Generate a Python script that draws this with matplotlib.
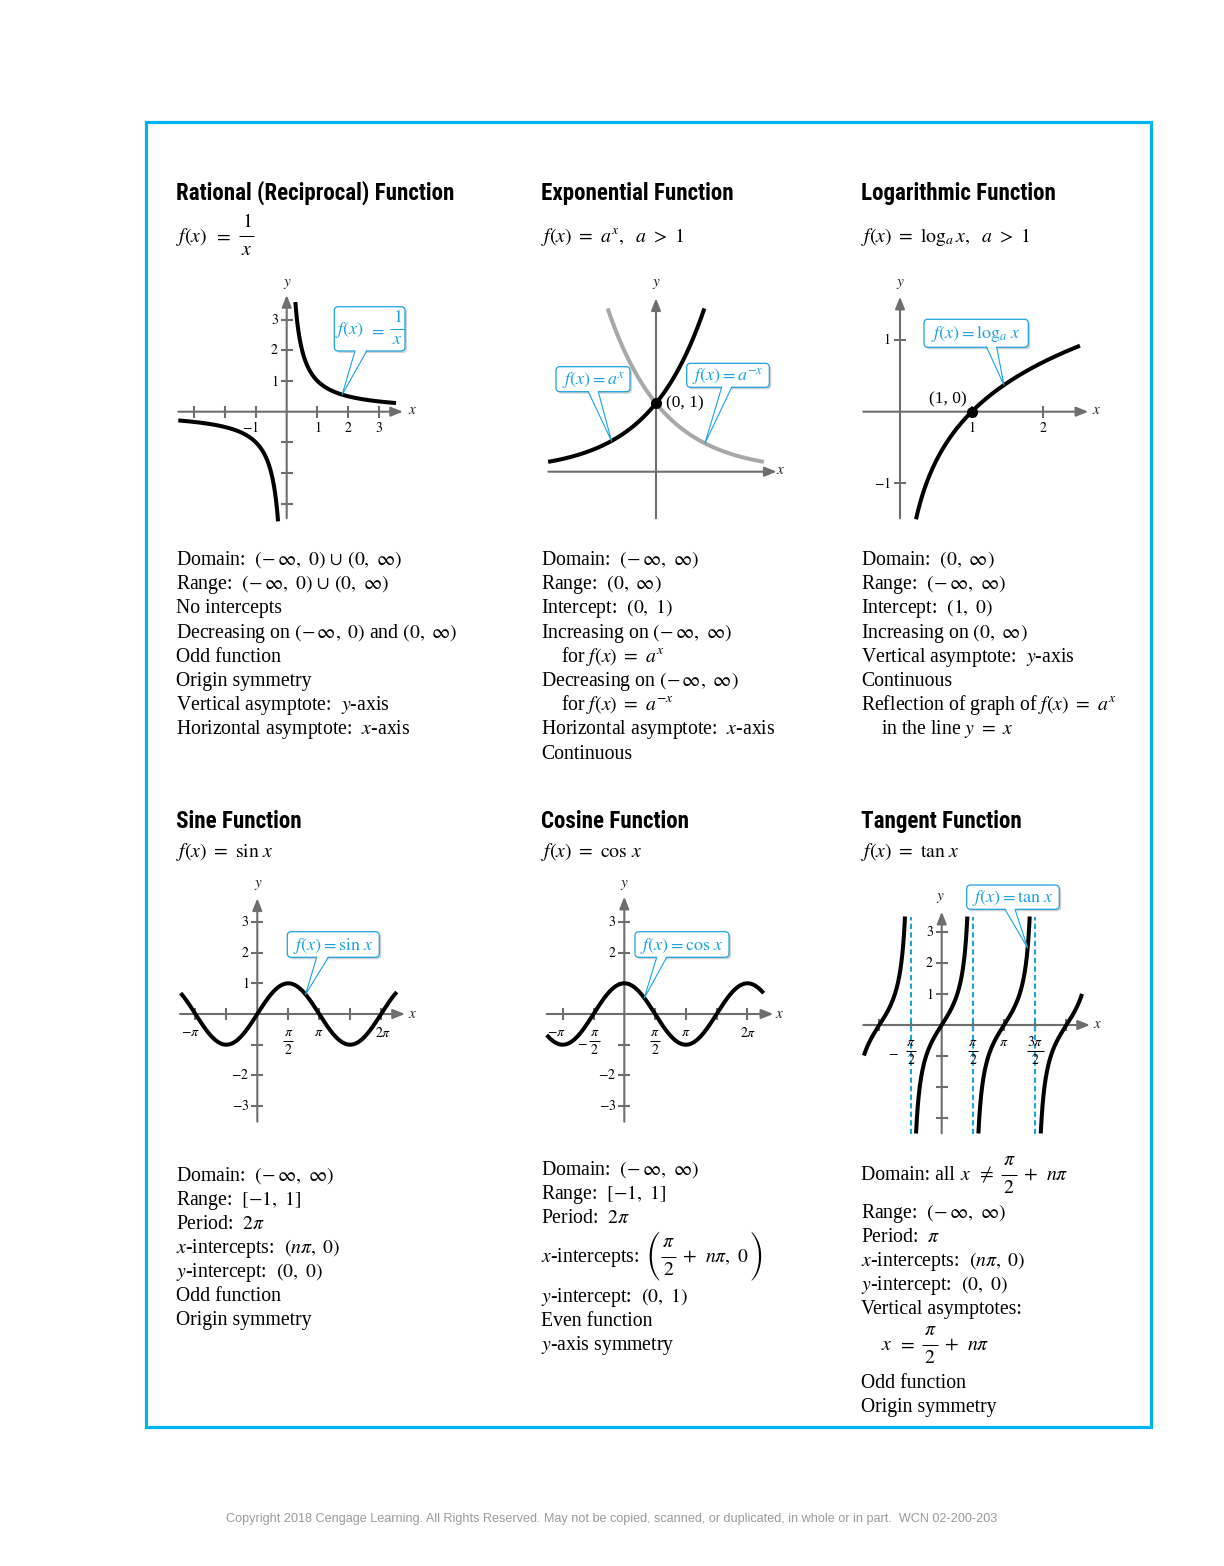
import numpy as np
import matplotlib
matplotlib.use('Agg')
import matplotlib.pyplot as plt
from matplotlib.patches import FancyBboxPatch, Polygon, Rectangle
from matplotlib import font_manager as fm

# ------------------------------------------------------------------ data
PI = np.pi
rational_xticks = [-3, -2, -1, 1, 2, 3]
rational_yticks = [-3, -2, -1, 1, 2, 3]
rational_xlabels = [(-1, r'$-1$'), (1, r'$1$'), (2, r'$2$'), (3, r'$3$')]
rational_ylabels = [(1, r'$1$'), (2, r'$2$'), (3, r'$3$')]
rational_pos_x = (0.28, 3.55)
rational_neg_x = (-3.52, -0.28)

exp_base = np.e
exp_x = (-1.94, 0.87)
exp_point = (0, 1)

log_x = (0.223, 2.51)
log_xticks = [1, 2]
log_yticks = [-1, 1]
log_xlabels = [(1, r'$1$'), (2, r'$2$')]
log_ylabels = [(1, r'$1$'), (-1, r'$-1$')]
log_point = (1, 0)

FR = 'frac'
trig_xticks = [-PI, -PI / 2, PI / 2, PI, 3 * PI / 2, 2 * PI]
trig_yticks = [-3, -2, -1, 1, 2, 3]
sine_x = (-3.89, 7.08)
sine_xlabels = [(-PI, [r'$-\pi$']), (PI / 2, [(FR, r'$\pi$', r'$2$')]), (PI, [r'$\pi$']), (2 * PI, [r'$2\pi$'])]
sine_ylabels = [(3, r'$3$'), (2, r'$2$'), (1, r'$1$'), (-2, r'$-2$'), (-3, r'$-3$')]
cos_x = (-3.96, 7.11)
cos_xlabels = [(-PI, [r'$-\pi$']), (-PI / 2, [r'$-$', 1, (FR, r'$\pi$', r'$2$')]),
               (PI / 2, [(FR, r'$\pi$', r'$2$')]), (PI, [r'$\pi$']), (2 * PI, [r'$2\pi$'])]
cos_ylabels = [(3, r'$3$'), (2, r'$2$'), (-2, r'$-2$'), (-3, r'$-3$')]
tan_x = (-3.92, 7.07)
tan_clip = 3.5
tan_branches = [-PI, 0, PI, 2 * PI]
tan_asymptotes = [-PI / 2, PI / 2, 3 * PI / 2]
tan_xlabels = [(-PI / 2, [r'$-$', 6, (FR, r'$\pi$', r'$2$')]), (PI / 2, [(FR, r'$\pi$', r'$2$')]),
               (PI, [r'$\pi$']), (3 * PI / 2, [(FR, r'$3\pi$', r'$2$')])]
tan_ylabels = [(3, r'$3$'), (2, r'$2$'), (1, r'$1$')]

titles = ['Rational (Reciprocal) Function', 'Exponential Function', 'Logarithmic Function',
          'Sine Function', 'Cosine Function', 'Tangent Function']
formulas = [[r'$f(x)$', 7, r'$=$', 7, (FR, r'$1$', r'$x$')],
            [r'$f(x)\ =\ a^x,\ \ a\ >\ 1$'],
            [r'$f(x)\ =\ \log_a x,\ \ a\ >\ 1$'],
            [r'$f(x)\ =\ \sin\,x$'], [r'$f(x)\ =\ \cos\,x$'], [r'$f(x)\ =\ \tan\,x$']]

INF2 = r'(-\,\infty,\ \infty)'
rational_facts = [r'Domain:  $(-\,\infty,\ 0)\,\cup\,(0,\ \infty)$',
                  r'Range:  $(-\,\infty,\ 0)\,\cup\,(0,\ \infty)$',
                  'No intercepts',
                  r'Decreasing on $(-\,\infty,\ 0)$ and $(0,\ \infty)$',
                  'Odd function',
                  'Origin symmetry',
                  r'Vertical asymptote:  $y$-axis',
                  r'Horizontal asymptote:  $x$-axis']
exp_facts = [r'Domain:  $' + INF2 + '$',
             r'Range:  $(0,\ \infty)$',
             r'Intercept:  $(0,\ 1)$',
             r'Increasing on $' + INF2 + '$',
             r'for $f(x)\ =\ a^x$',
             r'Decreasing on $' + INF2 + '$',
             r'for $f(x)\ =\ a^{-x}$',
             r'Horizontal asymptote:  $x$-axis',
             'Continuous']
exp_indent = [0, 0, 0, 0, 1, 0, 1, 0, 0]
log_facts = [r'Domain:  $(0,\ \infty)$',
             r'Range:  $' + INF2 + '$',
             r'Intercept:  $(1,\ 0)$',
             r'Increasing on $(0,\ \infty)$',
             r'Vertical asymptote:  $y$-axis',
             'Continuous',
             r'Reflection of graph of $f(x)\ =\ a^x$',
             r'in the line $y\ =\ x$']
log_indent = [0, 0, 0, 0, 0, 0, 0, 1]
sine_facts = [r'Domain:  $' + INF2 + '$',
              r'Range:  $[-1,\ 1]$',
              r'Period:  $2\pi$',
              r'$x$-intercepts:  $(n\pi,\ 0)$',
              r'$y$-intercept:  $(0,\ 0)$',
              'Odd function',
              'Origin symmetry']
cos_facts = [r'Domain:  $' + INF2 + '$',
             r'Range:  $[-1,\ 1]$',
             r'Period:  $2\pi$',
             [r'$x$-intercepts:', 6, ('big', '('), (FR, r'$\pi$', r'$2$'), 5, r'$+\ \ n\pi,\ 0$', 1, ('big', ')')],
             r'$y$-intercept:  $(0,\ 1)$',
             'Even function',
             r'$y$-axis symmetry']
tan_facts = [['Domain: all', 5, r'$x$', 6, r'$\neq$', 6, (FR, r'$\pi$', r'$2$'), 6, r'$+\ \ n\pi$'],
             r'Range:  $' + INF2 + '$',
             r'Period:  $\pi$',
             r'$x$-intercepts:  $(n\pi,\ 0)$',
             r'$y$-intercept:  $(0,\ 0)$',
             'Vertical asymptotes:',
             [r'$x$', 6, r'$=$', 6, (FR, r'$\pi$', r'$2$'), 6, r'$+\ \ n\pi$'],
             'Odd function',
             'Origin symmetry']
tan_indent = [0, 0, 0, 0, 0, 0, 1, 0, 0]
footer = ('Copyright 2018 Cengage Learning. All Rights Reserved. May not be copied, scanned, '
          'or duplicated, in whole or in part.  WCN 02-200-203')

# ------------------------------------------------------------------ style
W, H, DPI = 1224, 1566, 100
plt.rcParams['mathtext.fontset'] = 'stix'
plt.rcParams['font.family'] = ['Liberation Serif', 'DejaVu Serif']
GRAY = '#6e6e6e'
LGRAY = '#a8a8a8'
BLUE = '#1ba3e0'
BORDER = '#00b4f0'
CURVE_LW = 2.9
BODY_FS = 14.2
TICK_FS = 10
CALL_FS = 13

fig = plt.figure(figsize=(W / DPI, H / DPI), dpi=DPI)
R = fig.canvas.get_renderer()

pg = fig.add_axes([0, 0, 1, 1])
pg.set_xlim(0, W)
pg.set_ylim(H, 0)
pg.set_axis_off()
pg.set_zorder(10)


def measure(t):
    return t.get_window_extent(renderer=R).width


def rich(x, y, parts, fs, color='black', ha='left', bar_y=None, bar_dy=5.5, gap=(4.0, 4.0),
         fpad=2.0, zorder=3):
    """Lay out a line of text pieces; fractions are stacked numerator / bar / denominator."""
    if bar_y is None:
        bar_y = y - bar_dy
    else:
        y = bar_y + bar_dy
    items, total = [], 0.0
    for p in parts:
        if isinstance(p, (int, float)):
            items.append(('gap', p))
            total += p
        elif isinstance(p, str):
            t = pg.text(0, y, p, fontsize=fs, va='baseline', ha='left', color=color, zorder=zorder)
            w = measure(t)
            items.append(('t', t, w))
            total += w
        elif p[0] == 'big':
            t = pg.text(0, bar_y, p[1], fontsize=fs, va='center', ha='left', color=color,
                        family=['STIXSizeThreeSym', 'DejaVu Serif'], zorder=zorder)
            w = measure(t)
            items.append(('t', t, w))
            total += w
        else:
            tn = pg.text(0, 0, p[1], fontsize=fs, ha='center', va='bottom', color=color, zorder=zorder)
            td = pg.text(0, 0, p[2], fontsize=fs, ha='center', va='top', color=color, zorder=zorder)
            w = max(measure(tn), measure(td)) + 2 * fpad
            items.append(('f', tn, td, w))
            total += w
    cur = x - total / 2 if ha == 'center' else x
    for it in items:
        if it[0] == 'gap':
            cur += it[1]
        elif it[0] == 't':
            it[1].set_x(cur)
            cur += it[2]
        else:
            _, tn, td, w = it
            cx = cur + w / 2
            tn.set_position((cx, bar_y - gap[0]))
            td.set_position((cx, bar_y + gap[1]))
            pg.plot([cur + 0.5, cur + w - 0.5], [bar_y, bar_y], color=color, lw=0.75, zorder=zorder,
                    solid_capstyle='butt')
            cur += w
    return total


def graph(ox, oy, ux, uy, box):
    l, t, r, b = box
    ax = fig.add_axes([l / W, 1 - b / H, (r - l) / W, (b - t) / H])
    ax.set_xlim((l - ox) / ux, (r - ox) / ux)
    ax.set_ylim((oy - b) / uy, (oy - t) / uy)
    ax.set_axis_off()
    ax._px = (ox, oy, ux, uy)
    return ax


def px2d(ax, px, py):
    ox, oy, ux, uy = ax._px
    return (px - ox) / ux, (oy - py) / uy


def d2px(ax, x, y):
    dx, dy = ax.transData.transform((x, y))
    return dx, H - dy


def draw_axes(ax, xa, ya, xticks, yticks, xl, yl):
    ox, oy, ux, uy = ax._px
    x0, x1 = (xa[0] - ox) / ux, (xa[1] - ox) / ux
    y0, y1 = (oy - ya[0]) / uy, (oy - ya[1]) / uy
    ap = dict(arrowstyle='-|>,head_length=0.55,head_width=0.22', color=GRAY, lw=1.5,
              shrinkA=0, shrinkB=0, mutation_scale=13)
    ax.annotate('', xy=(x1, 0), xytext=(x0, 0), arrowprops=ap, annotation_clip=False, zorder=1)
    ax.annotate('', xy=(0, y1), xytext=(0, y0), arrowprops=ap, annotation_clip=False, zorder=1)
    if len(xticks):
        ax.plot(xticks, [0] * len(xticks), ls='none', marker='|', ms=9, mew=1.5, color=GRAY,
                clip_on=False, zorder=1)
    if len(yticks):
        ax.plot([0] * len(yticks), yticks, ls='none', marker='_', ms=9, mew=1.5, color=GRAY,
                clip_on=False, zorder=1)
    ax.text(*px2d(ax, *xl), r'$x$', fontsize=11, ha='center', va='center', color='#222222')
    ax.text(*px2d(ax, *yl), r'$y$', fontsize=11, ha='center', va='center', color='#222222')


def xlabels_simple(ax, items, dy=16, dx=None):
    dx = dx or {}
    for v, s in items:
        ax.annotate(s, xy=(v, 0), xytext=(dx.get(v, 0), -dy), textcoords='offset pixels',
                    ha='center', va='center', fontsize=TICK_FS, annotation_clip=False)


def xlabels_rich(ax, items, dy_single=19, dy_frac=27, dx=None):
    dx = dx or {}
    for v, parts in items:
        px, py = d2px(ax, v, 0)
        has_frac = any(isinstance(p, tuple) for p in parts)
        if has_frac:
            rich(px + dx.get(v, 0), None, parts, TICK_FS, ha='center', bar_y=py + dy_frac,
                 gap=(2.5, 2.5), fpad=1.0)
        else:
            pg.text(px + dx.get(v, 0), py + dy_single, parts[0], fontsize=TICK_FS, ha='center',
                    va='center')


def ylabels(ax, items, dx=-8):
    for v, s in items:
        ax.annotate(s, xy=(0, v), xytext=(dx, 0), textcoords='offset pixels',
                    ha='right', va='center', fontsize=TICK_FS, annotation_clip=False)


# ---------------- Graph 1: rational
g1 = graph(286.7, 411.7, 30.8, 30.7, (170, 270, 430, 530))
draw_axes(g1, (178.3, 403), (518.3, 295), rational_xticks, rational_yticks, (413, 411), (287, 284))
xp = np.linspace(*rational_pos_x, 300)
xn = np.linspace(*rational_neg_x, 300)
g1.plot(xp, 1 / xp, color='black', lw=CURVE_LW, clip_on=False, zorder=3, solid_capstyle='butt')
g1.plot(xn, 1 / xn, color='black', lw=CURVE_LW, clip_on=False, zorder=3, solid_capstyle='butt')
xlabels_simple(g1, rational_xlabels, dy=16, dx={-1: -5})
ylabels(g1, rational_ylabels)

# ---------------- Graph 2: exponential
g2 = graph(656, 471.7, 55.6, 68.4, (535, 275, 800, 525))
draw_axes(g2, (548.3, 776.7), (518.3, 298.3), [], [], (781, 471), (656, 284))
xe = np.linspace(*exp_x, 300)
xg = np.linspace(-exp_x[1], -exp_x[0], 300)
g2.plot(xg, exp_base ** (-xg), color=LGRAY, lw=CURVE_LW, clip_on=False, zorder=2, solid_capstyle='butt')
g2.plot(xe, exp_base ** xe, color='black', lw=CURVE_LW, clip_on=False, zorder=3, solid_capstyle='butt')
g2.plot(*exp_point, 'o', ms=7, color='black', zorder=4)
g2.annotate('(0, 1)', xy=exp_point, xytext=(10, 0), textcoords='offset pixels', ha='left',
            va='center', fontsize=12.5)

# ---------------- Graph 3: logarithmic
g3 = graph(900, 411.7, 71.7, 71.7, (855, 275, 1120, 525))
draw_axes(g3, (863.3, 1088.3), (518.3, 296.7), log_xticks, log_yticks, (1097, 411), (900, 284))
xl_ = np.linspace(*log_x, 300)
g3.plot(xl_, np.log(xl_), color='black', lw=CURVE_LW, clip_on=False, zorder=3, solid_capstyle='butt')
g3.plot(*log_point, 'o', ms=7, color='black', zorder=4)
g3.annotate('(1, 0)', xy=log_point, xytext=(-5, 12), textcoords='offset pixels', ha='right',
            va='center', fontsize=12.5)
xlabels_simple(g3, log_xlabels, dy=16)
ylabels(g3, log_ylabels, dx=-9)

# ---------------- Graph 4: sine
g4 = graph(257.3, 1014, 19.7, 30.7, (170, 875, 430, 1130))
draw_axes(g4, (180, 405), (1121.7, 898.3), trig_xticks, trig_yticks, (413, 1014), (258, 885))
xs = np.linspace(*sine_x, 400)
g4.plot(xs, np.sin(xs), color='black', lw=CURVE_LW, clip_on=False, zorder=3, solid_capstyle='butt')
xlabels_rich(g4, sine_xlabels, dx={-PI: -5, 2 * PI: 2})
ylabels(g4, sine_ylabels)

# ---------------- Graph 5: cosine
g5 = graph(624.3, 1014, 19.6, 30.7, (535, 875, 800, 1130))
draw_axes(g5, (546.7, 773.3), (1121.7, 896.7), trig_xticks, trig_yticks, (780, 1014), (624, 885))
xc = np.linspace(*cos_x, 400)
g5.plot(xc, np.cos(xc), color='black', lw=CURVE_LW, clip_on=False, zorder=3, solid_capstyle='butt')
xlabels_rich(g5, cos_xlabels, dx={-PI: -6, -PI / 2: -5, 2 * PI: 1})
ylabels(g5, cos_ylabels)

# ---------------- Graph 6: tangent
g6 = graph(941.7, 1025, 19.85, 31, (855, 880, 1120, 1140))
draw_axes(g6, (863.3, 1090), (1133.3, 911.7), trig_xticks, trig_yticks, (1098, 1025), (940, 898))
half = np.arctan(tan_clip)
for c in tan_branches:
    lo, hi = max(c - half, tan_x[0]), min(c + half, tan_x[1])
    xt = np.linspace(lo, hi, 300)
    g6.plot(xt, np.tan(xt), color='black', lw=CURVE_LW, clip_on=False, zorder=3, solid_capstyle='butt')
for a in tan_asymptotes:
    g6.plot([a, a], [-tan_clip, tan_clip], color=BLUE, lw=1.5, ls=(0, (2.5, 1.6)), clip_on=False, zorder=2)
xlabels_rich(g6, tan_xlabels, dy_single=18, dy_frac=26, dx={-PI / 2: -8})
ylabels(g6, tan_ylabels)

# ------------------------------------------------------------------ page
pg.add_patch(Rectangle((145.5, 122), 1005, 1305, fill=False, ec=BORDER, lw=2.3))


def callout(ax, tip, parts, box, base, fs=CALL_FS):
    l, t, r, b = box
    tx, ty = d2px(ax, *tip)
    pg.add_patch(FancyBboxPatch((l + 2, t + 2), r - l, b - t, boxstyle='round,pad=0,rounding_size=4',
                                fc='#d2d2d2', ec='none', zorder=5))
    pg.add_patch(FancyBboxPatch((l, t), r - l, b - t, boxstyle='round,pad=0,rounding_size=4',
                                fc='white', ec=BLUE, lw=0.9, zorder=6))
    pg.add_patch(Polygon([(base[0], b - 1.5), (tx, ty), (base[1], b - 1.5)], closed=True,
                         fc='white', ec='none', zorder=7))
    pg.plot([base[0], tx, base[1]], [b, ty, b], color=BLUE, lw=0.8, zorder=8)
    if isinstance(parts, str):
        pg.text((l + r) / 2, (t + b) / 2 + 1, parts, color=BLUE, fontsize=fs, ha='center',
                va='center', zorder=9)
    else:
        rich((l + r) / 2, None, parts, fs, color=BLUE, ha='center', bar_y=(t + b) / 2,
             gap=(2.5, 2.5), zorder=9)


callout(g1, (1.8, 1 / 1.8), [r'$f(x)$', 5, r'$=$', 5, (FR, r'$1$', r'$x$')],
        (334.3, 306.7, 405, 351), (355, 366.7))
callout(g2, (-0.8, exp_base ** -0.8), r'$f(x) = a^x$', (556, 366.7, 630, 391.7), (588.3, 598.3))
callout(g2, (0.88, exp_base ** -0.88), r'$f(x) = a^{-x}$', (686.7, 363.3, 769.3, 387.3), (721.7, 731.7))
callout(g3, (1.45, np.log(1.45)), r'$f(x) = \log_a\,x$', (924, 319.3, 1028.3, 347.3), (986.7, 996.7))
callout(g4, (2.45, np.sin(2.45)), r'$f(x) = \sin\,x$', (287.3, 931.7, 379.3, 957.3), (316.7, 328.3))
callout(g5, (1.02, np.cos(1.02)), r'$f(x) = \cos\,x$', (635, 931.7, 729, 957.3), (656.7, 666.7))
callout(g6, (4.33, np.tan(4.33)), r'$f(x) = \tan\,x$', (966.7, 885, 1059.3, 909.3), (1005, 1015))

# titles
names = {f.name for f in fm.fontManager.ttflist}
title_kw = None
for cand in ['Liberation Sans Narrow', 'DejaVu Sans Condensed', 'Roboto Condensed', 'Open Sans Condensed']:
    if cand in names:
        title_kw = dict(family=cand, weight='bold')
        break
if title_kw is None:
    if any(f.name == 'DejaVu Sans' and str(f.stretch) == 'condensed' for f in fm.fontManager.ttflist):
        title_kw = dict(family='DejaVu Sans', weight='bold', stretch='condensed')
    else:
        title_kw = dict(family='Roboto', weight='bold')

col_x = [176, 541, 861]
title_y = [200, 828]
formula_y = [242, 857]
title_artists = []
for i, tt in enumerate(titles):
    x = col_x[i % 3]
    title_artists.append(pg.text(x, title_y[i // 3], tt, fontsize=15, va='baseline', ha='left',
                                 color='black', **title_kw))
    rich(x, formula_y[i // 3], formulas[i], BODY_FS, gap=(4.0, 5.0), bar_dy=6)

wref = measure(title_artists[0])
fs_t = max(13.0, min(17.0, 15 * 279 / wref))
for a in title_artists:
    a.set_fontsize(fs_t)


def facts(x, ys, lines, indent=None):
    indent = indent or [0] * len(lines)
    for y, s, ind in zip(ys, lines, indent):
        parts = [s] if isinstance(s, str) else s
        rich(x + 20 * ind, y, parts, BODY_FS, gap=(4.5, 4.5), bar_dy=5.5)


top_ys = [565 + 24.2 * i for i in range(9)]
facts(176, top_ys, rational_facts)
facts(541, top_ys, exp_facts, exp_indent)
facts(861, top_ys, log_facts, log_indent)
facts(176, [1180.5 + 24.1 * i for i in range(7)], sine_facts)
facts(541, [1175, 1199, 1223, 1262, 1302, 1326, 1350], cos_facts)
facts(861, [1180, 1218, 1242, 1266, 1290, 1314, 1350, 1388, 1412], tan_facts, tan_indent)

ft = pg.text(612, 1519, footer, fontsize=8, color='#9a9a9a', ha='center', va='center',
             family=['Liberation Sans', 'DejaVu Sans'])
wf = measure(ft)
ft.set_fontsize(8 * 776 / wf)

fig.savefig('out.png', dpi=DPI)
